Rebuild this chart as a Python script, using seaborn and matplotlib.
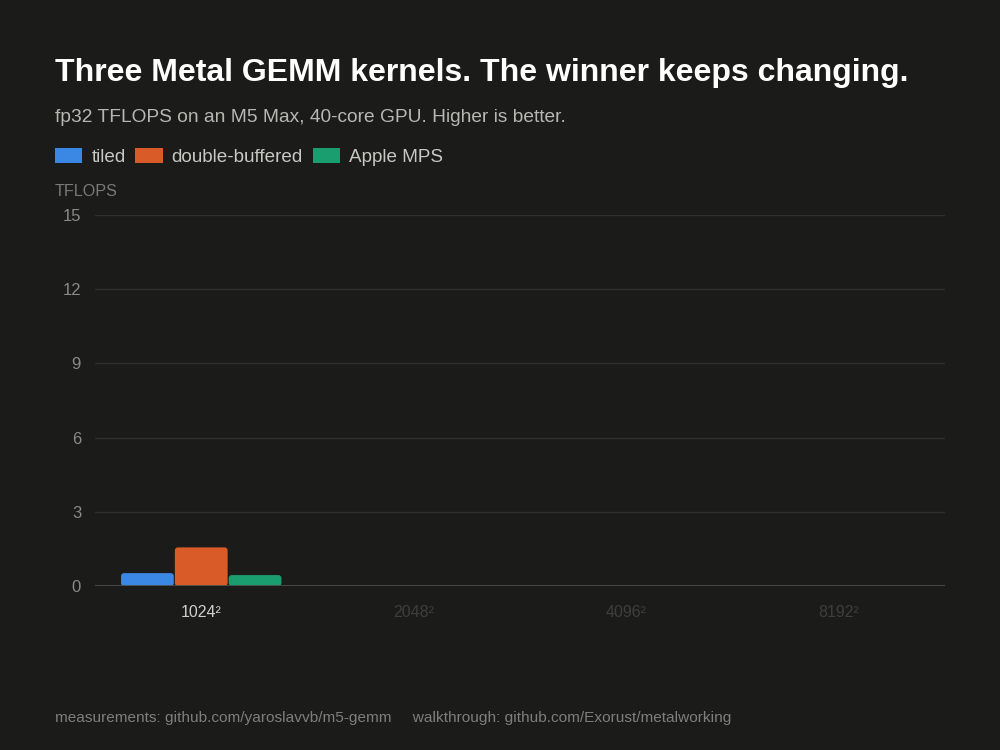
import numpy as np
import pandas as pd
import seaborn as sns
import matplotlib.pyplot as plt
from matplotlib.patches import FancyBboxPatch

# matrix sizes and measured fp32 TFLOPS (only the 1024 run is shown)
sizes = ["1024²", "2048²", "4096²", "8192²"]
kernels = ["tiled", "double-buffered", "Apple MPS"]
tiled = [0.52, np.nan, np.nan, np.nan]
double_buffered = [1.56, np.nan, np.nan, np.nan]
apple_mps = [0.44, np.nan, np.nan, np.nan]
y_ticks = [0, 3, 6, 9, 12, 15]

palette = {"tiled": "#3a88e4", "double-buffered": "#d95b28", "Apple MPS": "#1a9e70"}
bg = "#1b1b1a"

df = pd.DataFrame({"size": sizes, "tiled": tiled,
                   "double-buffered": double_buffered, "Apple MPS": apple_mps})
df_long = df.melt(id_vars="size", var_name="kernel", value_name="tflops")

sns.set_theme(style="dark")
plt.rcParams["font.family"] = ["Liberation Sans", "DejaVu Sans"]

fig = plt.figure(figsize=(10, 7.5), dpi=100, facecolor=bg)
ax = fig.add_axes([0.095, 0.2187, 0.85, 0.4946], facecolor=bg)

sns.barplot(data=df_long, x="size", y="tflops", hue="kernel", order=sizes,
            hue_order=kernels, palette=palette, width=0.76, gap=0.02,
            errorbar=None, saturation=1, ax=ax, linewidth=0)

ax.set_ylim(0, 15)
ax.set_yticks(y_ticks)
ax.set_xlim(-0.5, len(sizes) - 0.5)

# swap the plain bars for slightly rounded ones
px_x = (len(sizes)) / 850.0
px_y = 15 / 371.0
for p in list(ax.patches):
    h = p.get_height()
    if not np.isfinite(h) or h <= 0:
        p.remove()
        continue
    rb = FancyBboxPatch((p.get_x(), p.get_y()), p.get_width(), h,
                        boxstyle=f"round,pad=0,rounding_size={3 * px_x}",
                        mutation_aspect=px_y / px_x, facecolor=p.get_facecolor(),
                        linewidth=0, zorder=2)
    p.set_visible(False)
    ax.add_patch(rb)

ax.set_xlabel("")
ax.set_ylabel("")
for s in ax.spines.values():
    s.set_visible(False)
ax.grid(False)
for t in y_ticks[1:]:
    ax.axhline(t, color="#2f2f2e", linewidth=1, zorder=0)
ax.axhline(0, color="#4d4d4c", linewidth=2, zorder=3)

ax.tick_params(axis="y", length=0, pad=10, labelsize=12, labelcolor="#8a8a88")
ax.tick_params(axis="x", length=0, pad=14, labelsize=11.5)
for i, lbl in enumerate(ax.get_xticklabels()):
    lbl.set_color("#cfcfcc" if i == 0 else "#3e3e3d")

sns.move_legend(ax, "center left", bbox_to_anchor=(0.055, 1 - 157 / 750),
                bbox_transform=fig.transFigure, ncol=3, frameon=False, title=None,
                fontsize=13.6, handlelength=1.45, handleheight=0.8, borderpad=0,
                borderaxespad=0, handletextpad=0.47, columnspacing=0.52,
                labelcolor="#c8c8c2")

fig.text(0.055, 1 - 73 / 750, "Three Metal GEMM kernels. The winner keeps changing.",
         color="white", fontsize=23, fontweight="bold", va="center")
fig.text(0.055, 1 - 117 / 750, "fp32 TFLOPS on an M5 Max, 40-core GPU. Higher is better.",
         color="#b8b8b2", fontsize=13.8, va="center")
fig.text(0.055, 1 - 191 / 750, "TFLOPS", color="#7a7a78", fontsize=11.6, va="center")
fig.text(0.055, 1 - 718 / 750,
         "measurements: github.com/yaroslavvb/m5-gemm     walkthrough: github.com/Exorust/metalworking",
         color="#7e7e7c", fontsize=11.1, va="center")

fig.savefig("out.png", dpi=100, facecolor=bg)
